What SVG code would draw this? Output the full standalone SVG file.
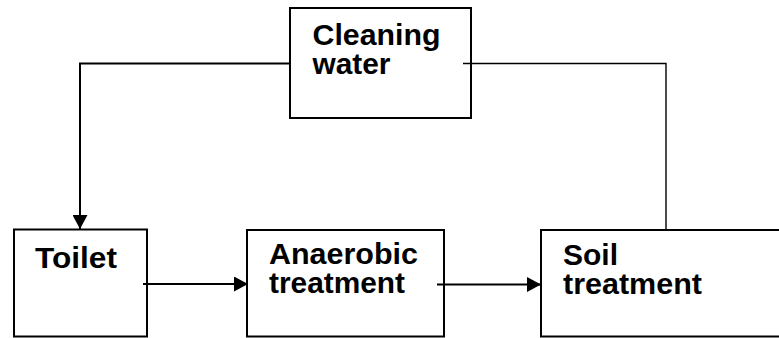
<svg xmlns="http://www.w3.org/2000/svg" width="779" height="338" viewBox="0 0 779 338">
<style>
.box{fill:#fff;stroke:#000;stroke-width:2}
.lbl{font-family:"Liberation Sans",Arial,sans-serif;font-weight:bold;font-size:29px;fill:#000}
.ln{fill:none;stroke:#000;stroke-width:2}
.thin{fill:none;stroke:#000;stroke-width:1.4}
</style>
<defs>
<marker id="ah" viewBox="0 0 14 15" refX="14" refY="7.5" markerWidth="14" markerHeight="15" markerUnits="userSpaceOnUse" orient="auto">
<path d="M0,0 L14,7.5 L0,15 Z" fill="#000"/>
</marker>
</defs>
<g id="cleaning-water">
<rect class="box" x="290" y="8" width="181" height="110"/>
<text class="lbl" x="312.5" y="45" textLength="128" lengthAdjust="spacingAndGlyphs">Cleaning</text>
<text class="lbl" x="312.5" y="74" textLength="78" lengthAdjust="spacingAndGlyphs">water</text>
</g>
<g id="toilet">
<rect class="box" x="14" y="229.5" width="133" height="107"/>
<text class="lbl" x="35" y="268" textLength="82" lengthAdjust="spacingAndGlyphs">Toilet</text>
</g>
<g id="anaerobic">
<rect class="box" x="247" y="230" width="197" height="106.5"/>
<text class="lbl" x="269" y="264" textLength="149" lengthAdjust="spacingAndGlyphs">Anaerobic</text>
<text class="lbl" x="269" y="293" textLength="136" lengthAdjust="spacingAndGlyphs">treatment</text>
</g>
<g id="soil">
<rect class="box" x="541" y="230" width="260" height="106.5"/>
<text class="lbl" x="563" y="265" textLength="55" lengthAdjust="spacingAndGlyphs">Soil</text>
<text class="lbl" x="563" y="294" textLength="139" lengthAdjust="spacingAndGlyphs">treatment</text>
</g>
<g id="connectors">
<path class="ln" d="M290,63.5 H80 V229" marker-end="url(#ah)"/>
<path class="thin" d="M463,63.5 H666 V230"/>
<path class="ln" d="M143,284 H248" marker-end="url(#ah)"/>
<path class="ln" d="M437,284.5 H541" marker-end="url(#ah)"/>
</g>
</svg>
